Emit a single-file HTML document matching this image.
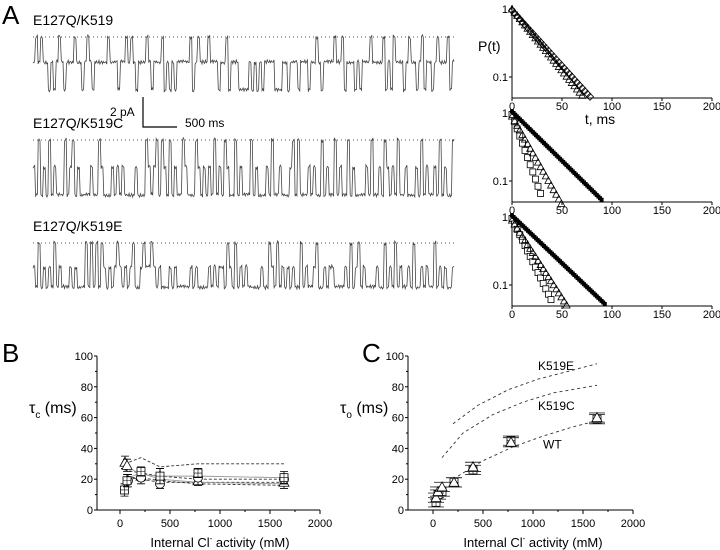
<!DOCTYPE html>
<html><head><meta charset="utf-8"><style>
body{margin:0;background:#fff}
svg{display:block;font-family:"Liberation Sans",sans-serif}
</style></head><body>
<svg id="fig" width="720" height="550" viewBox="0 0 720 550">
<g id="traces"></g>
<g id="surv"></g>
<g id="pb"></g>
<g id="pc"></g>
</svg>
<script>
// ---- trace data (state per segment: 0=baseline,1=one open,2=two open) ----
const trace1 = "10101121210121110112101211111011121101012111012111021212111110210111011121102111222212121211112221121112111211012111101102111212111011110212011121011210211210111021";
const trace2 = "12021202122202102122221220122212121222212220121020120212201222012121202120122021222021222120221222102022212122021220212202122221202212012120221222120212212021220";
const trace3 = "12021212021222121222020202012121012121022101101212221212222212122221212112012021212222212201202121212202122102212112222120210212222122021202122120221212202121221";
const traceLabels = ["E127Q/K519","E127Q/K519C","E127Q/K519E"];
// ---- survival (log P) data ----
const survTicksX = [0,50,100,150,200];
const survTau = [[24,26.7],[10.7,16.7,30],[14.2,19,31]];
const survStart = [[1,0.95],[0.95,0.9,1.05],[0.95,0.9,1.05]];
const survEnd = [[72,80],[30,50,90],[40,57,93]];
const survSym = [["tri","dia"],["sq","tri","fill"],["sq","tri","fill"]];
// ---- panel B data ----
const bTicksX = [0,500,1000,1500,2000];
const bTicksY = [0,20,40,60,80,100];
const bDashX = [[45,210,400,780,1640],[45,210,400,780,1640],[70,210,400,780,1640],[80,210,400,780,1640]];
const bDashY = [[30,34,28,30,30],[26,24,22,20,20],[22,20,18,18,18],[20,21,19,17,16]];
const bSolidX = [[50,210,400,780,1640],[80,210,400,780,1640]];
const bSolidY = [[29,23,22,22,21],[21,24,20,18,17]];
const bTriX = [50,70,210,400,780,1640];
const bTriY = [31,29,22,22,19,18];
const bCircX = [80,210,400,780,1640];
const bCircY = [19,21,17,21,20];
const bSqX = [45,70,210,400,780,1640];
const bSqY = [13,19,25,22,24,21];
const bErr = [4,4,3,5,3,4];
// ---- panel C data ----
const cPtX = [30,50,90,210,400,780,1640];
const cPtY = [8,12,15,18,28,44,60];
const cPt2Y = [5,10,12,18,26,45,59];
const cWTx = [250,500,800,1100,1400,1640];
const cWTy = [22,32,41,48,54,58];
const cCx = [90,300,600,900,1200,1640];
const cCy = [34,50,62,70,76,81];
const cEx = [200,450,750,1050,1350,1640];
const cEy = [56,68,78,85,90,95];
const cLabels = ["K519E","K519C","WT"];

const NS="http://www.w3.org/2000/svg";
function mk(p,tag,a,txt){const e=document.createElementNS(NS,tag);for(const k in a)e.setAttribute(k,a[k]);if(txt!=null)e.textContent=txt;p.appendChild(e);return e;}
const fig=document.getElementById('fig');
const t=mk(fig,'text',{x:2,y:24,'font-size':26},'A');


const tb=mk(fig,'text',{x:2,y:362,'font-size':26},'B');


const tc=mk(fig,'text',{x:362,y:362,'font-size':26},'C');



// traces
const tg=document.getElementById('traces');
const tr=[trace1,trace2,trace3];
const base=[37,140,243], lv=[[37,62,90],[140,167,195],[243,267,287]], lab=[25,128,231];
tr.forEach((s,i)=>{
  const x0=33,x1=455,step=(x1-x0)/s.length;
  const L=lv[i];
  const dot=mk(tg,'line',{x1:x0,y1:base[i],x2:x1,y2:base[i],stroke:'#555','stroke-width':1,'stroke-dasharray':'1 3'});
  
  
  let d='';
  for(let k=0;k<s.length;k++){
    const y=L[+s[k]];
    const xa=x0+k*step;
    for(let m=0;m<3;m++){
      const xx=xa+m*step/3, jit=Math.sin(k*7.3+m*2.1+i)*1.4+Math.sin(k*13.1+m*5.7)*0.8;
      d+=(d?'L':'M')+xx.toFixed(1)+' '+(y+jit).toFixed(1);
    }
  }
  const p=mk(tg,'path',{d:d,fill:'none',stroke:'#444','stroke-width':0.8});
  
  
  const tl=mk(tg,'text',{x:33,y:lab[i],'font-size':14},traceLabels[i]);
  
  
});
const sb=mk(tg,'path',{d:'M143 97 L143 127 L177 127',fill:'none',stroke:'#000','stroke-width':1.2});


const s1=mk(tg,'text',{x:110,y:116,'font-size':12},'2 pA');


const s2=mk(tg,'text',{x:185,y:127,'font-size':12},'500 ms');



// survival
const sg=document.getElementById('surv');
const tops=[9,113,217];
survTau.forEach((taus,pi)=>{
  const y1=tops[pi], xL=512, xR=712, yB=y1+89;
  const sx=v=>xL+(v/200)*(xR-xL);
  const sy=p=>y1-Math.log10(p)*68;
  const ax=mk(sg,'path',{d:`M${xL} ${y1-4} L${xL} ${yB} L${xR} ${yB}`,fill:'none',stroke:'#000','stroke-width':1});
  
  
  [[1,'1'],[0.1,'0.1']].forEach(([v,l])=>{
    mk(sg,'line',{x1:xL-3,y1:sy(v),x2:xL,y2:sy(v),stroke:'#000'});
    const tt=mk(sg,'text',{x:xL-4,y:sy(v)+4,'font-size':11,'text-anchor':'end'},l);
    
    
  });
  survTicksX.forEach(v=>{
    mk(sg,'line',{x1:sx(v),y1:yB,x2:sx(v),y2:yB+3,stroke:'#000'});
    const tt=mk(sg,'text',{x:sx(v),y:yB+12,'font-size':11,'text-anchor':'middle'},v);
    
    
  });
  taus.forEach((tau,si)=>{
    const sym=survSym[pi][si], g=mk(sg,'g',{});
    
    
    const stepT = sym==='fill'?1.6:2.6;
    for(let tt=0;tt<=survEnd[pi][si];tt+=stepT){
      const p=survStart[pi][si]*Math.exp(-tt/tau);
      const X=sx(tt),Y=sy(p);
      if(sym==='fill') mk(g,'rect',{x:X-2,y:Y-2,width:4,height:4,fill:'#000'});
      else if(sym==='sq') mk(g,'rect',{x:X-3,y:Y-3,width:6,height:6,fill:'#fff',stroke:'#000','stroke-width':0.8});
      else if(sym==='tri') mk(g,'path',{d:`M${X} ${Y-3.5}L${X+3.5} ${Y+3}L${X-3.5} ${Y+3}Z`,fill:'none',stroke:'#000','stroke-width':0.8});
      else mk(g,'path',{d:`M${X} ${Y-3.5}L${X+3.5} ${Y}L${X} ${Y+3.5}L${X-3.5} ${Y}Z`,fill:'none',stroke:'#000','stroke-width':0.8});
    }
  });
});
const pt=mk(sg,'text',{x:478,y:51,'font-size':14},'P(t)');


const tms=mk(sg,'text',{x:600,y:124,'font-size':14,'text-anchor':'middle'},'t, ms');



// generic xy panel
function panel(g,axX,x0px,x2000px,titleX,sub){
  const sx=v=>x0px+v/2000*(x2000px-x0px);
  const sy=v=>510-v*1.54;
  const ax=mk(g,'path',{d:`M${axX} 356 L${axX} 510 L${x2000px} 510`,fill:'none',stroke:'#000','stroke-width':1});
  
  
  bTicksY.forEach(v=>{
    mk(g,'line',{x1:axX-3,y1:sy(v),x2:axX,y2:sy(v),stroke:'#000'});
    if(v<100) mk(g,'line',{x1:axX-2,y1:sy(v+10),x2:axX,y2:sy(v+10),stroke:'#000'});
    const tt=mk(g,'text',{x:axX-4,y:sy(v)+4,'font-size':11,'text-anchor':'end'},v);
    
    
  });
  bTicksX.forEach(v=>{
    mk(g,'line',{x1:sx(v),y1:510,x2:sx(v),y2:514,stroke:'#000'});
    if(v<2000) mk(g,'line',{x1:sx(v+250),y1:510,x2:sx(v+250),y2:512,stroke:'#000'});
    const tt=mk(g,'text',{x:sx(v),y:527,'font-size':11,'text-anchor':'middle'},v);
    
    
  });
  const xt=mk(g,'text',{x:(x0px+x2000px)/2,y:547,'font-size':13,'text-anchor':'middle'});
  xt.innerHTML='Internal Cl<tspan font-size="8" dy="-6">-</tspan><tspan dy="6"> activity (mM)</tspan>';
  
  
  const yt=mk(g,'text',{x:titleX,y:413,'font-size':16});
  yt.innerHTML='τ<tspan font-size="10" dy="5">'+sub+'</tspan><tspan dy="-5"> (ms)</tspan>';
  
  
  return [sx,sy];
}
function poly(g,xs,ys,sx,sy,dash,name,col){
  const p=mk(g,'polyline',{points:xs.map((x,i)=>sx(x)+','+sy(ys[i])).join(' '),fill:'none',stroke:col||'#333','stroke-width':0.9,'stroke-dasharray':dash});
  
  
}
function sym(g,kind,X,Y){
  if(kind==='tri') mk(g,'path',{d:`M${X} ${Y-5}L${X+5} ${Y+4}L${X-5} ${Y+4}Z`,fill:'#fff',stroke:'#000','stroke-width':0.8});
  else if(kind==='circ') mk(g,'circle',{cx:X,cy:Y,r:4.5,fill:'#fff',stroke:'#000','stroke-width':0.8});
  else {mk(g,'rect',{x:X-4,y:Y-4,width:8,height:8,fill:'#fff',stroke:'#000','stroke-width':0.8});mk(g,'path',{d:`M${X-4} ${Y}H${X+4}M${X} ${Y-4}V${Y+4}`,stroke:'#000','stroke-width':0.6});}
}
// panel B
const pb=document.getElementById('pb');
const [bx,by]=panel(pb,97,120,320,29,'c');
bDashX.forEach((xs,i)=>poly(pb,xs,bDashY[i],bx,by,'3 2','dashed-line-'+(i+1)));
bSolidX.forEach((xs,i)=>poly(pb,xs,bSolidY[i],bx,by,null,'solid-line-'+(i+1),'#999'));
[[bTriX,bTriY,'tri'],[bCircX,bCircY,'circ'],[bSqX,bSqY,'sq']].forEach(([xs,ys,k])=>{
  const g=mk(pb,'g',{});
  
  
  xs.forEach((x,i)=>{const e=bErr[i%bErr.length];
    mk(g,'path',{d:`M${bx(x)} ${by(ys[i]-e)}V${by(ys[i]+e)}M${bx(x)-4} ${by(ys[i]-e)}h8M${bx(x)-4} ${by(ys[i]+e)}h8`,stroke:'#000','stroke-width':0.8});
    sym(g,k,bx(x),by(ys[i]));});
});
// panel C
const pc=document.getElementById('pc');
const [cx,cy]=panel(pc,408,433,633,340,'o');
poly(pc,cWTx,cWTy,cx,cy,'3 3','wt-fit-curve');
poly(pc,cCx,cCy,cx,cy,'3 3','k519c-fit-curve');
poly(pc,cEx,cEy,cx,cy,'3 3','k519e-fit-curve');
[[cPtX,cPt2Y,'sq'],[cPtX,cPtY,'tri']].forEach(([xs,ys,k])=>{
  const g=mk(pc,'g',{});
  
  
  xs.forEach((x,i)=>{
    mk(g,'path',{d:`M${cx(x)-8} ${cy(ys[i]-3)}h16M${cx(x)-8} ${cy(ys[i]+3)}h16M${cx(x)} ${cy(ys[i]-3)}V${cy(ys[i]+3)}`,stroke:'#333','stroke-width':0.9});
    sym(g,k,cx(x),cy(ys[i]));});
});
[[1050,91],[1050,65],[1100,40]].forEach(([x,y],i)=>{
  const tt=mk(pc,'text',{x:cx(x),y:cy(y),'font-size':12},cLabels[i]);
  
  
});
</script>
</body></html>
